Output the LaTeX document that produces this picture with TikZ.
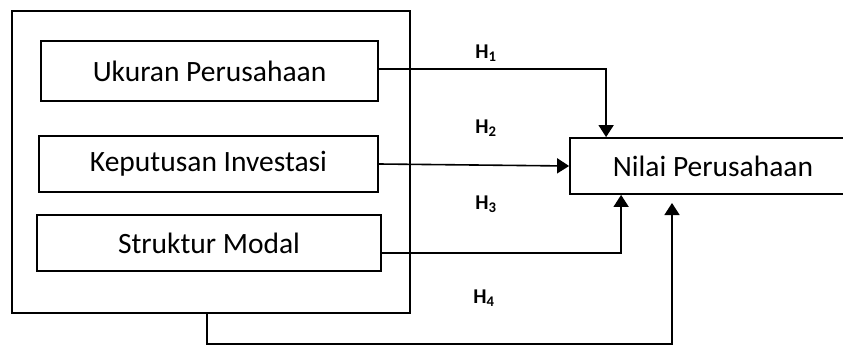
\documentclass[tikz,border=0pt]{standalone}
\usepackage{fontspec}
\setmainfont{Carlito}
\usetikzlibrary{arrows.meta}
\begin{document}
\begin{tikzpicture}[x=1pt,y=-1pt,
  box/.style={draw,line width=1.8pt,inner sep=0pt,font=\fontsize{29.5}{32}\selectfont},
  conn/.style={line width=1.6pt},
  arr/.style={conn,-{Triangle[length=12pt,width=15pt]}},
  hlab/.style={font=\fontsize{21}{23}\selectfont\bfseries}]
\useasboundingbox (0,0) rectangle (843,345);
\node[box,minimum width=398pt,minimum height=302pt] (outer) at (211,162) {};
\node[box,minimum width=337pt,minimum height=60pt] (b1) at (209.5,71) {Ukuran Perusahaan};
\node[box,minimum width=339pt,minimum height=56pt] (b2) at (208.5,164) {Keputusan Investasi};
\node[box,minimum width=344pt,minimum height=56pt] (b3) at (209,243) {Struktur Modal};
\node[box,minimum width=286pt,minimum height=56pt] (n) at (713,166) {Nilai Perusahaan};
\coordinate (h4end) at (672,203);
\draw[arr] ([yshift=2pt]b1.east) -| ([xshift=37pt]n.north west);
\draw[arr] (b2.east) -- (n.west);
\draw[arr] ([yshift=-10pt]b3.east) -| ([xshift=52pt]n.south west);
\draw[arr] ([xshift=-4pt]outer.south) -- ++(0,30) -| (h4end);
\node[hlab] (l1) at (486,53) {H\textsubscript{1}};
\node[hlab] (l2) at (486,128) {H\textsubscript{2}};
\node[hlab] (l3) at (486,204) {H\textsubscript{3}};
\node[hlab] (l4) at (484,298) {H\textsubscript{4}};
\end{tikzpicture}
\end{document}
